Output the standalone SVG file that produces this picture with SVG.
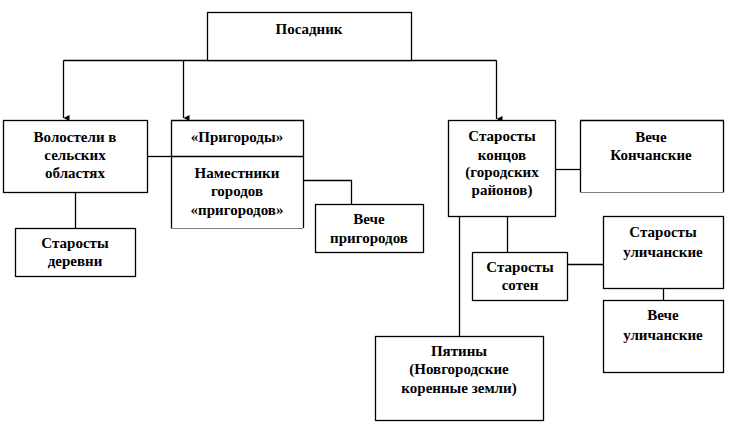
<svg xmlns="http://www.w3.org/2000/svg" width="735" height="444" viewBox="0 0 735 444">
<defs>
<style>
.box{fill:#fff;stroke:#000;stroke-width:1.3}
.edge{fill:none;stroke:#000;stroke-width:1.3}
.dot{fill:none;stroke:#000;stroke-width:1;stroke-dasharray:1,1}
.t{font-family:'Liberation Serif','Times New Roman','DejaVu Serif',serif;font-weight:bold;font-size:15px;text-anchor:middle;fill:#000}
</style>
<marker id="arr" viewBox="0 0 6 6" refX="3" refY="6" markerWidth="6" markerHeight="6" markerUnits="userSpaceOnUse" orient="auto">
<path d="M0,0 L6,0 L3,6 Z" fill="#000"/>
</marker>
</defs>
<rect width="735" height="444" fill="#fff"/>
<g id="connectors">
<path class="edge" d="M63.5,60.5 H496.5"/>
<path class="edge" d="M63.5,60.5 V118" marker-end="url(#arr)"/>
<path class="edge" d="M183.5,60.5 V118" marker-end="url(#arr)"/>
<path class="edge" d="M496.5,60.5 V119" marker-end="url(#arr)"/>
<path class="edge" d="M147,156.5 H171"/>
<path class="edge" d="M75.5,192 V228"/>
<path class="edge" d="M303,180.5 H351.5 V204"/>
<path class="edge" d="M555,169.5 H580"/>
<path class="edge" d="M459.5,216 V337"/>
<path class="edge" d="M507.5,216 V252"/>
<path class="edge" d="M567,264.5 H603"/>
<path class="edge" d="M663.5,288 V301"/>
</g>
<g id="posadnik">
<rect class="box" x="207.5" y="12.5" width="204" height="48"/>
<text class="t" x="309" y="34">Посадник</text>
</g>
<g id="volosteli">
<rect class="box" x="3.5" y="120.5" width="144" height="72"/>
<text class="t" x="75" y="142">Волостели в</text>
<text class="t" x="75" y="160">сельских</text>
<text class="t" x="75" y="178">областях</text>
</g>
<g id="prigorody">
<path class="edge" d="M171.5,228 V120.5 H303.5 V228"/>
<path class="edge" d="M171,156.5 H303.5"/>
<path class="dot" d="M171.5,228.5 H303.5"/>
<text class="t" x="237" y="142">«Пригороды»</text>
<text class="t" x="237" y="178">Наместники</text>
<text class="t" x="237" y="196">городов</text>
<text class="t" x="237" y="215">«пригородов»</text>
</g>
<g id="starosty-derevni">
<rect class="box" x="15.5" y="228.5" width="120" height="48"/>
<text class="t" x="75" y="248">Старосты</text>
<text class="t" x="75" y="266">деревни</text>
</g>
<g id="veche-prigorodov">
<rect class="box" x="315.5" y="204.5" width="108" height="48"/>
<text class="t" x="369" y="224">Вече</text>
<text class="t" x="369" y="243">пригородов</text>
</g>
<g id="starosty-koncov">
<rect class="box" x="448.5" y="120.5" width="107" height="96"/>
<text class="t" x="502" y="141">Старосты</text>
<text class="t" x="502" y="160">концов</text>
<text class="t" x="502" y="177">(городских</text>
<text class="t" x="502" y="195">районов)</text>
</g>
<g id="veche-konchanskie">
<path class="edge" d="M580.5,192 V120.5 H723.5 V192"/>
<path class="dot" d="M580.5,192.5 H723.5"/>
<text class="t" x="651" y="142">Вече</text>
<text class="t" x="651" y="160">Кончанские</text>
</g>
<g id="starosty-soten">
<rect class="box" x="472.5" y="252.5" width="95" height="48"/>
<text class="t" x="520" y="272">Старосты</text>
<text class="t" x="520" y="290">сотен</text>
</g>
<g id="starosty-ulichanskie">
<rect class="box" x="603.5" y="216.5" width="120" height="72"/>
<text class="t" x="663" y="237">Старосты</text>
<text class="t" x="663" y="257">уличанские</text>
</g>
<g id="veche-ulichanskie">
<rect class="box" x="603.5" y="300.5" width="120" height="72"/>
<text class="t" x="663" y="320">Вече</text>
<text class="t" x="663" y="340">уличанские</text>
</g>
<g id="pyatiny">
<rect class="box" x="375.5" y="336.5" width="168" height="84"/>
<text class="t" x="459" y="356">Пятины</text>
<text class="t" x="459" y="374">(Новгородские</text>
<text class="t" x="459" y="393">коренные земли)</text>
</g>
</svg>
